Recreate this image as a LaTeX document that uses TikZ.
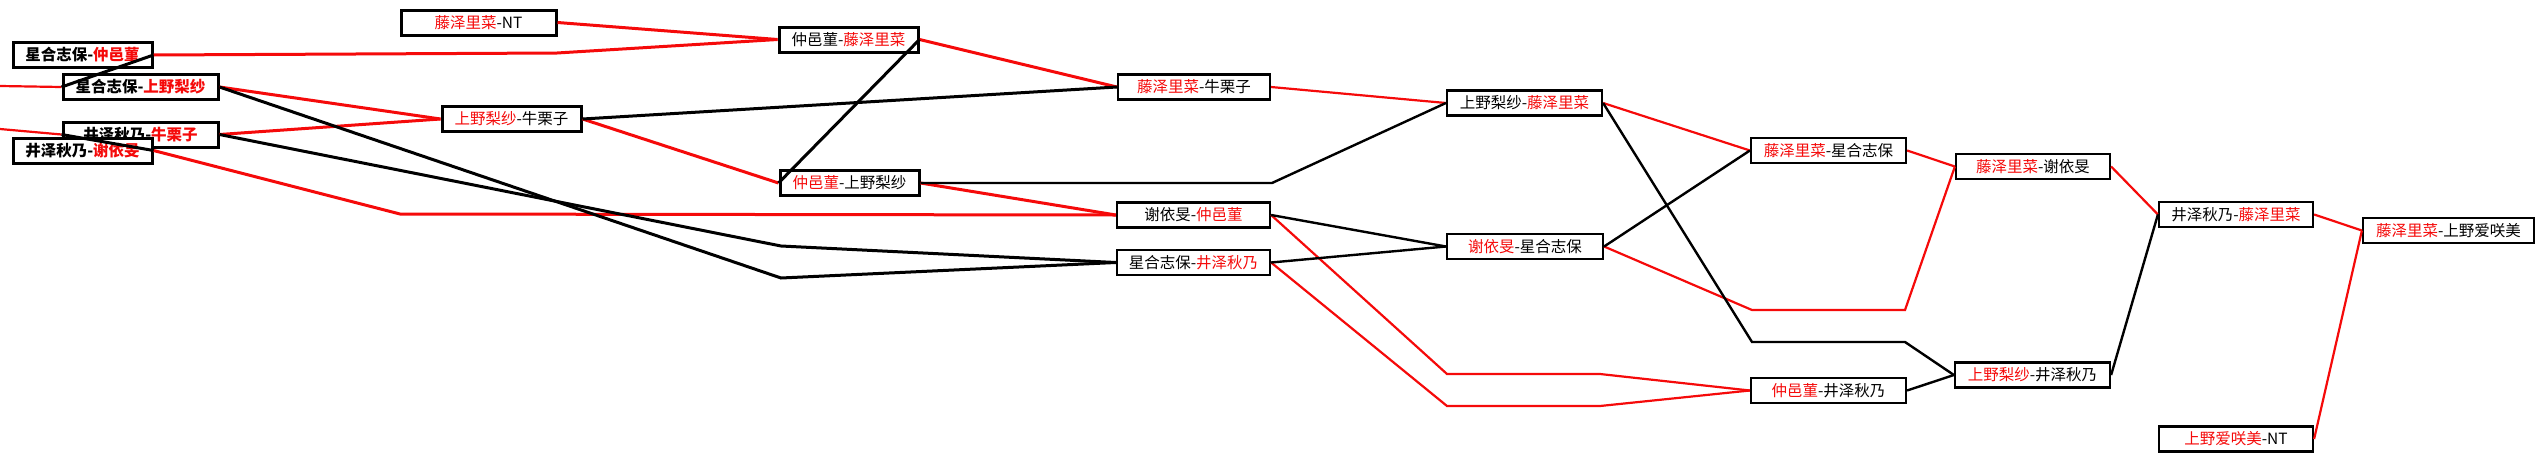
\documentclass[tikz,border=0pt]{standalone}
\usepackage{fontspec}
\setmainfont{Noto Sans CJK SC}
\usepackage{tikz}
\usetikzlibrary{positioning}
\definecolor{winred}{RGB}{245,10,10}
\newcommand{\win}[1]{\textcolor{winred}{#1}}

\begin{document}
\begin{tikzpicture}[x=1pt, y=-1pt,
    box/.style={draw, line width=2.2pt, fill=white, inner sep=0pt, minimum height=25pt,
      font=\fontsize{15.5}{16}\selectfont},
    firstbox/.style={box, line width=3pt, font=\fontsize{15.5}{16}\selectfont\bfseries},
    winline/.style={winred, line width=2.2pt},
    loseline/.style={black, line width=2.4pt}]
        \useasboundingbox (0,0) rectangle (2544,461);
        \path
        (0,86) coordinate (inB)
        (0,129) coordinate (inC)
        (557,53) coordinate (kA)
        (400,214) coordinate (kD)
        (781,278) coordinate (kB)
        (781,246) coordinate (kC)
        (1272,183) coordinate (kG)
        (1447,374) coordinate (kI1) (1600,374) coordinate (kI2)
        (1447,406) coordinate (kJ1) (1600,406) coordinate (kJ2)
        (1752,310) coordinate (kL1) (1905,310) coordinate (kL2)
        (1752,342) coordinate (kK1) (1905,342) coordinate (kK2)
        ;

        % left column
        \node[firstbox, minimum width=139pt] (a) at (82.5,55) {星合志保-\win{仲邑菫}};
        \node[firstbox, minimum width=155pt] (b) at (140.5,87) {星合志保-\win{上野梨纱}};
        \node[firstbox, minimum width=155pt] (c) at (140.5,134.5) {井泽秋乃-\win{牛栗子}};
        \node[firstbox, minimum width=139pt] (d) at (82.5,150.5) {井泽秋乃-\win{谢依旻}};

        \node[box, minimum width=155pt, line width=3pt] (nt) at (478.5,22.5) {\win{藤泽里菜}-NT};
        \node[box, minimum width=139pt, line width=3pt] (f) at (511.5,119) {\win{上野梨纱}-牛栗子};
        \node[box, minimum width=139pt, line width=3pt] (e) at (848.5,39.5) {仲邑菫-\win{藤泽里菜}};
        \node[box, minimum width=139pt, line width=3pt] (g) at (849.5,183) {\win{仲邑菫}-上野梨纱};

        \node[box, minimum width=152pt] (h) at (1194,87) {\win{藤泽里菜}-牛栗子};
        \node[box, minimum width=153pt] (i) at (1193.5,215) {谢依旻-\win{仲邑菫}};
        \node[box, minimum width=153pt] (j) at (1193.5,262.5) {星合志保-\win{井泽秋乃}};
        \node[box, minimum width=155pt] (k) at (1524.5,103) {上野梨纱-\win{藤泽里菜}};
        \node[box, minimum width=156pt] (l) at (1525,246.5) {\win{谢依旻}-星合志保};
        \node[box, minimum width=155pt] (m) at (1828.5,150.5) {\win{藤泽里菜}-星合志保};
        \node[box, minimum width=155pt] (q) at (1828.5,390.5) {\win{仲邑菫}-井泽秋乃};
        \node[box, minimum width=154pt] (n) at (2033,166.5) {\win{藤泽里菜}-谢依旻};
        \node[box, minimum width=155pt] (r) at (2032.5,375) {\win{上野梨纱}-井泽秋乃};
        \node[box, minimum width=154pt] (o) at (2236,214.5) {井泽秋乃-\win{藤泽里菜}};
        \node[box, minimum width=154pt] (s) at (2236,439) {\win{上野爱咲美}-NT};
        \node[box, minimum width=171pt] (p) at (2448.5,230.5) {\win{藤泽里菜}-上野爱咲美};

        \draw[winline] (inB) -- (b.west);
        \draw[winline] (inC) -- (c.west);
        \draw[winline, line width=3pt] (a.east) -- (kA) -- (e.west);
        \draw[winline, line width=3pt] (nt.east) -- (e.west);
        \draw[winline, line width=3pt] (b.east) -- (f.west);
        \draw[winline, line width=3pt] (c.east) -- (f.west);
        \draw[winline, line width=3pt] (d.east) -- (kD) -- (i.west);
        \draw[winline, line width=3pt] (f.east) -- (g.west);
        \draw[winline, line width=3pt] (e.east) -- (h.west);
        \draw[winline, line width=3pt] (g.east) -- (i.west);
        \draw[winline] (h.east) -- (k.west);
        \draw[winline] (i.east) -- (kI1) -- (kI2) -- (q.west);
        \draw[winline] (j.east) -- (kJ1) -- (kJ2) -- (q.west);
        \draw[winline] (k.east) -- (m.west);
        \draw[winline] (l.east) -- (kL1) -- (kL2) -- (n.west);
        \draw[winline] (m.east) -- (n.west);
        \draw[winline] (n.east) -- (o.west);
        \draw[winline] (o.east) -- (p.west);
        \draw[winline] (s.east) -- (p.west);

        \draw[loseline, line width=3pt] (a.east) -- (b.west);
        \draw[loseline, line width=3pt] (d.east) -- (c.west);
        \draw[loseline, line width=3pt] (b.east) -- (kB) -- (j.west);
        \draw[loseline, line width=3pt] (c.east) -- (kC) -- (j.west);
        \draw[loseline, line width=3pt] (f.east) -- (h.west);
        \draw[loseline, line width=3pt] (e.east) -- (g.west);
        \draw[loseline] (g.east) -- (kG) -- (k.west);
        \draw[loseline] (i.east) -- (l.west);
        \draw[loseline] (j.east) -- (l.west);
        \draw[loseline] (l.east) -- (m.west);
        \draw[loseline] (k.east) -- (kK1) -- (kK2) -- (r.west);
        \draw[loseline] (q.east) -- (r.west);
        \draw[loseline] (r.east) -- (o.west);
\end{tikzpicture}
\end{document}
